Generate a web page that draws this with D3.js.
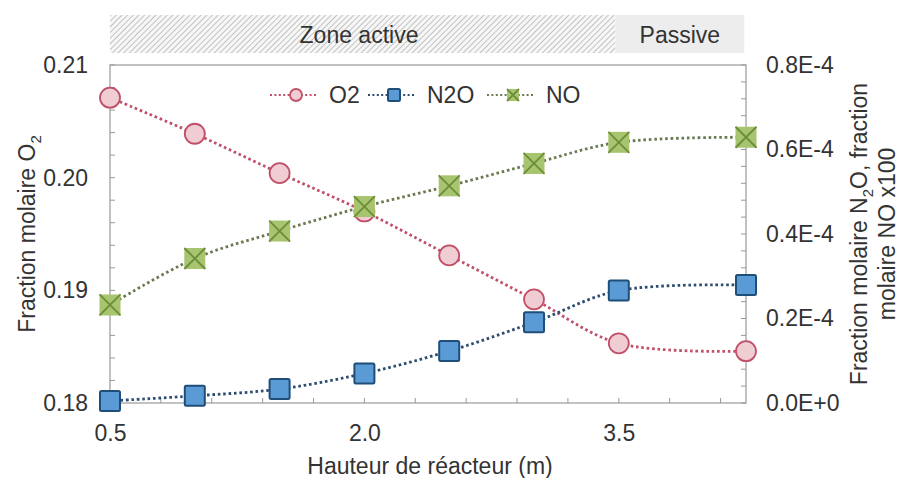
<!DOCTYPE html>
<html>
<head>
<meta charset="utf-8">
<script src="https://cdn.jsdelivr.net/npm/d3@7"></script>
<style>
  body { margin: 0; background: #fff; }
  text { font-family: "Liberation Sans", Arial, sans-serif; fill: #333; }
</style>
</head>
<body>
<div id="chart"></div>
<script>
// hauteur (m)
var heights = [0.5, 1.0, 1.5, 2.0, 2.5, 3.0, 3.5, 4.25];
// fraction molaire O2 (axe gauche)
var o2 = [0.2071, 0.2039, 0.2004, 0.1970, 0.1931, 0.1892, 0.1853, 0.1846];
// fraction molaire N2O (axe droit)
var n2o = [0.005e-4, 0.017e-4, 0.033e-4, 0.070e-4, 0.123e-4, 0.191e-4, 0.266e-4, 0.279e-4];
// fraction molaire NO x100 (axe droit)
var no = [0.232e-4, 0.342e-4, 0.407e-4, 0.465e-4, 0.514e-4, 0.567e-4, 0.617e-4, 0.629e-4];

var xTicks = [0.5, 2.0, 3.5];
var leftTicks = [0.18, 0.19, 0.20, 0.21];
var rightTicks = [0, 0.2e-4, 0.4e-4, 0.6e-4, 0.8e-4];
var zones = [{name: "Zone active", from: 0.5, to: 3.48}, {name: "Passive", from: 3.48, to: 4.24}];

var W = 901, H = 478;
var FS = "23px";
var margin = {top: 65, right: 155, bottom: 75, left: 110},
    width = W - margin.left - margin.right,
    height = H - margin.top - margin.bottom;

var svg = d3.select("#chart")
  .append("svg")
    .attr("width", W)
    .attr("height", H);

var defs = svg.append("defs");
var pat = defs.append("pattern")
    .attr("id", "hatch")
    .attr("patternUnits", "userSpaceOnUse")
    .attr("width", 4).attr("height", 4)
    .attr("patternTransform", "rotate(45)");
pat.append("rect").attr("width", 4).attr("height", 4).attr("fill", "#f7f7f7");
pat.append("line").attr("x1", 0).attr("y1", 0).attr("x2", 0).attr("y2", 4)
    .attr("stroke", "#b9b9b9").attr("stroke-width", 1.7);

var g = svg.append("g")
    .attr("transform", "translate(" + margin.left + "," + margin.top + ")");

var x = d3.scaleLinear().domain([0.5, 4.25]).range([0, width]);
var yL = d3.scaleLinear().domain([0.18, 0.21]).range([height, 0]);
var yR = d3.scaleLinear().domain([0, 0.8e-4]).range([height, 0]);

// bandeau des zones
var band = g.append("g").attr("transform", "translate(0,-50)");
band.selectAll("rect")
  .data(zones)
  .enter().append("rect")
    .attr("x", function(d) { return x(d.from); })
    .attr("width", function(d) { return x(d.to) - x(d.from); })
    .attr("y", 0)
    .attr("height", 38)
    .attr("fill", function(d, i) { return i == 0 ? "url(#hatch)" : "#ededed"; });
band.selectAll("text")
  .data(zones)
  .enter().append("text")
    .attr("x", function(d, i) { return i == 0 ? x(d.from) + 249 : (x(d.from) + x(d.to)) / 2; })
    .attr("y", 28)
    .attr("text-anchor", "middle")
    .style("font-size", FS)
    .text(function(d) { return d.name; });

// cadre
g.append("rect")
    .attr("width", width).attr("height", height)
    .attr("fill", "none").attr("stroke", "#999").attr("stroke-width", 1.2);

// ticks mineurs
var minorX = d3.range(0.5, 4.25, 0.3);
g.selectAll(".mx").data(minorX).enter().append("line")
    .attr("x1", function(d) { return x(d); }).attr("x2", function(d) { return x(d); })
    .attr("y1", height).attr("y2", height - 5)
    .attr("stroke", "#999");
var minorL = d3.range(0.18, 0.2101, 0.002);
g.selectAll(".ml").data(minorL).enter().append("line")
    .attr("x1", 0).attr("x2", 5)
    .attr("y1", function(d) { return yL(d); }).attr("y2", function(d) { return yL(d); })
    .attr("stroke", "#999");
var minorR = d3.range(0, 0.8001e-4, 0.04e-4);
g.selectAll(".mr").data(minorR).enter().append("line")
    .attr("x1", width).attr("x2", width - 5)
    .attr("y1", function(d) { return yR(d); }).attr("y2", function(d) { return yR(d); })
    .attr("stroke", "#999");

// axes
var xAxis = g.append("g")
    .attr("transform", "translate(0," + height + ")")
    .call(d3.axisBottom(x).tickValues(xTicks).tickSize(0).tickPadding(22).tickFormat(d3.format(".1f")));
var lAxis = g.append("g")
    .call(d3.axisLeft(yL).tickValues(leftTicks).tickSize(0).tickPadding(22).tickFormat(d3.format(".2f")));
var rAxis = g.append("g")
    .attr("transform", "translate(" + width + ",0)")
    .call(d3.axisRight(yR).tickValues(rightTicks).tickSize(0).tickPadding(20)
      .tickFormat(function(d) { return d == 0 ? "0.0E+0" : (d * 1e4).toFixed(1) + "E-4"; }));
[xAxis, lAxis, rAxis].forEach(function(a) {
  a.select(".domain").remove();
  a.selectAll("text").style("font-size", FS).attr("fill", "#333");
});

// titres des axes
svg.append("text")
    .attr("x", margin.left + width / 2 + 2).attr("y", 474)
    .attr("text-anchor", "middle").style("font-size", FS)
    .text("Hauteur de réacteur (m)");

var tl = svg.append("text")
    .attr("transform", "translate(35," + (margin.top + height / 2) + ") rotate(-90)")
    .attr("text-anchor", "middle").style("font-size", FS);
tl.append("tspan").text("Fraction molaire O");
tl.append("tspan").attr("dy", 6).style("font-size", "15px").text("2");

var tr = svg.append("text")
    .attr("transform", "translate(867," + (margin.top + height / 2) + ") rotate(-90)")
    .attr("text-anchor", "middle").style("font-size", FS);
tr.append("tspan").text("Fraction molaire N");
tr.append("tspan").attr("dy", 6).style("font-size", "15px").text("2");
tr.append("tspan").attr("dy", -6).text("O, fraction");
svg.append("text")
    .attr("transform", "translate(895," + (margin.top + height / 2) + ") rotate(-90)")
    .attr("text-anchor", "middle").style("font-size", FS)
    .text("molaire NO x100");

// séries
var series = [
  {name: "O2", values: o2, y: yL, line: "#c0506a", fill: "#efcdd3", stroke: "#c0506a", shape: "circle"},
  {name: "N2O", values: n2o, y: yR, line: "#2c4c70", fill: "#5b9bd5", stroke: "#1f4e79", shape: "square"},
  {name: "NO", values: no, y: yR, line: "#6a7a50", fill: "#a9c46e", stroke: "#6b8e3a", shape: "x"}
];

function drawMarker(sel, s, size) {
  if (s.shape == "circle") {
    sel.append("circle").attr("r", size / 2)
      .attr("fill", s.fill).attr("stroke", s.stroke).attr("stroke-width", 1.8);
  } else if (s.shape == "square") {
    sel.append("rect").attr("x", -size / 2).attr("y", -size / 2)
      .attr("width", size).attr("height", size).attr("rx", 1.5)
      .attr("fill", s.fill).attr("stroke", s.stroke).attr("stroke-width", 2);
  } else {
    var h = size / 2;
    sel.append("rect").attr("x", -h).attr("y", -h).attr("width", size).attr("height", size)
      .attr("fill", s.fill);
    sel.append("path").attr("d", "M" + (-h) + "," + (-h) + "L" + h + "," + h + "M" + (-h) + "," + h + "L" + h + "," + (-h))
      .attr("stroke", s.stroke).attr("stroke-width", 1.8);
  }
}

series.forEach(function(s) {
  var line = d3.line()
    .x(function(d, i) { return x(heights[i]); })
    .y(function(d) { return s.y(d); })
    .curve(d3.curveCatmullRom.alpha(0.5));
  g.append("path")
    .datum(s.values)
    .attr("d", line)
    .attr("fill", "none")
    .attr("stroke", s.line)
    .attr("stroke-width", 2.8)
    .attr("stroke-dasharray", "2.6,2.8");
  g.selectAll(".m-" + s.name)
    .data(s.values)
    .enter().append("g")
      .attr("transform", function(d, i) { return "translate(" + x(heights[i]) + "," + s.y(d) + ")"; })
      .each(function() { drawMarker(d3.select(this), s, s.shape == "x" ? 21 : 20); });
});

// légende
var legX = [270, 368, 487];
var leg = g.append("g").attr("transform", "translate(0," + (95 - margin.top) + ")");
series.forEach(function(s, i) {
  var it = leg.append("g").attr("transform", "translate(" + (legX[i] - margin.left) + ",0)");
  it.append("line").attr("x1", 0).attr("x2", 48).attr("y1", 0).attr("y2", 0)
    .attr("stroke", s.line).attr("stroke-width", 2.2).attr("stroke-dasharray", "2,2.4");
  var mk = it.append("g").attr("transform", "translate(26,0)");
  drawMarker(mk, s, 12);
  it.append("text").attr("x", 59).attr("y", 8).style("font-size", FS).text(s.name);
});
</script>
</body>
</html>
